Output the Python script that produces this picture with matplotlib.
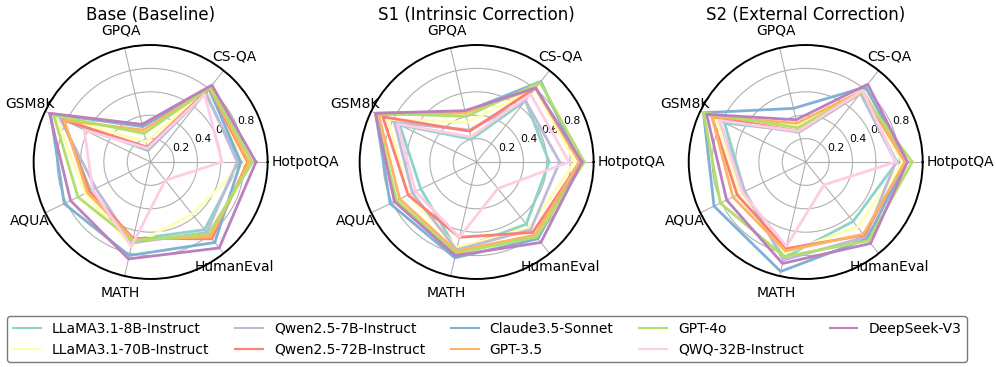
import numpy as np
import matplotlib.pyplot as plt

categories = ["HotpotQA", "CS-QA", "GPQA", "GSM8K", "AQUA", "MATH", "HumanEval"]

models = ["LLaMA3.1-8B-Instruct", "LLaMA3.1-70B-Instruct", "Qwen2.5-7B-Instruct",
          "Qwen2.5-72B-Instruct", "Claude3.5-Sonnet", "GPT-3.5", "GPT-4o",
          "QWQ-32B-Instruct", "DeepSeek-V3"]

colors = ["#8dd3c7", "#ffffb3", "#bebada", "#fb8072", "#80b1d3",
          "#fdb462", "#b3de69", "#fccde5", "#bc80bd"]

# order of values: HotpotQA, CS-QA, GPQA, GSM8K, AQUA, MATH, HumanEval
base_scores = [
    [0.76, 0.75, 0.10, 0.84, 0.57, 0.68, 0.74],
    [0.81, 0.79, 0.18, 0.90, 0.62, 0.74, 0.57],
    [0.74, 0.76, 0.11, 0.86, 0.52, 0.71, 0.77],
    [0.83, 0.80, 0.13, 0.83, 0.58, 0.67, 0.84],
    [0.77, 0.80, 0.31, 0.95, 0.82, 0.82, 0.88],
    [0.84, 0.81, 0.28, 0.82, 0.60, 0.68, 0.82],
    [0.87, 0.82, 0.25, 0.92, 0.69, 0.69, 0.79],
    [0.61, 0.74, 0.12, 0.63, 0.55, 0.74, 0.20],
    [0.90, 0.84, 0.33, 0.96, 0.76, 0.85, 0.94],
]

s1_scores = [
    [0.62, 0.67, 0.20, 0.73, 0.53, 0.77, 0.68],
    [0.84, 0.80, 0.35, 0.84, 0.65, 0.75, 0.72],
    [0.71, 0.67, 0.28, 0.78, 0.61, 0.77, 0.74],
    [0.88, 0.81, 0.27, 0.89, 0.65, 0.66, 0.77],
    [0.88, 0.88, 0.44, 0.96, 0.82, 0.84, 0.84],
    [0.88, 0.81, 0.43, 0.93, 0.73, 0.78, 0.80],
    [0.92, 0.87, 0.40, 0.96, 0.76, 0.80, 0.82],
    [0.79, 0.74, 0.22, 0.75, 0.58, 0.66, 0.29],
    [0.90, 0.81, 0.45, 0.96, 0.78, 0.82, 0.88],
]

s2_scores = [
    [0.78, 0.76, 0.27, 0.77, 0.58, 0.84, 0.65],
    [0.83, 0.76, 0.32, 0.85, 0.62, 0.80, 0.71],
    [0.77, 0.75, 0.26, 0.82, 0.58, 0.86, 0.82],
    [0.85, 0.77, 0.27, 0.89, 0.65, 0.76, 0.80],
    [0.86, 0.82, 0.47, 0.97, 0.87, 0.96, 0.84],
    [0.85, 0.78, 0.34, 0.89, 0.69, 0.78, 0.79],
    [0.91, 0.76, 0.30, 0.97, 0.81, 0.83, 0.86],
    [0.77, 0.78, 0.27, 0.82, 0.60, 0.74, 0.25],
    [0.87, 0.85, 0.37, 0.94, 0.75, 0.89, 0.89],
]

titles = ["Base (Baseline)", "S1 (Intrinsic Correction)", "S2 (External Correction)"]
panels = [base_scores, s1_scores, s2_scores]
lefts = [0.0338, 0.3611, 0.6915]

angles = np.linspace(0, 2 * np.pi, len(categories), endpoint=False).tolist()
angles += angles[:1]

fig = plt.figure(figsize=(9.96, 3.67), dpi=100)

for title, scores, left in zip(titles, panels, lefts):
    ax = fig.add_axes([left, 0.2398, 0.2349, 0.6376], polar=True)
    for name, vals, c in zip(models, scores, colors):
        v = vals + vals[:1]
        ax.plot(angles, v, color=c, linewidth=2, label=name)
    ax.set_ylim(0, 1)
    ax.set_xticks(angles[:-1])
    ax.set_xticklabels([])
    for ang, cat in zip(angles[:-1], categories):
        if ang == 0:
            ax.text(ang, 1.03, cat, ha="left", va="center", fontsize=10)
        else:
            ax.text(ang, 1.15, cat, ha="center", va="center", fontsize=10)
    ax.set_yticks([0.2, 0.4, 0.6, 0.8])
    ax.set_yticklabels(["0.2", "0.4", "0.6", "0.8"], fontsize=7.8)
    ax.grid(True)
    ax.spines["polar"].set_linewidth(1.4)
    ax.set_title(title, fontsize=12, y=1.108, pad=0)

handles, labels = ax.get_legend_handles_labels()
leg = fig.legend(handles, labels, loc="lower center", ncol=5, fontsize=10,
                 columnspacing=1.85, bbox_to_anchor=(0.489, -0.006))
leg.get_frame().set_edgecolor("0.35")
for line in leg.get_lines():
    line.set_linewidth(1.5)

fig.savefig("out.png", dpi=100)
